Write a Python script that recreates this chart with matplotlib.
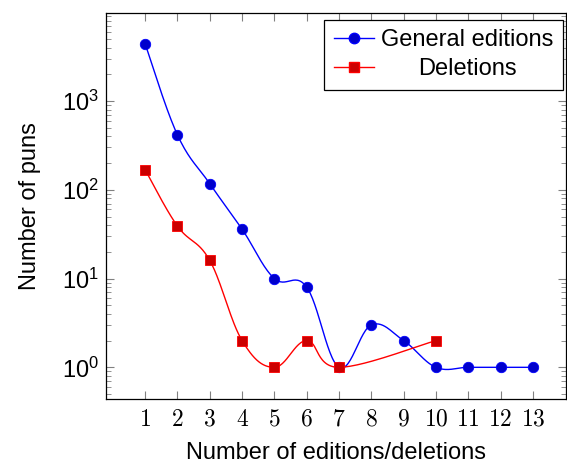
import numpy as np
import matplotlib
matplotlib.use('Agg')
import matplotlib.pyplot as plt
from matplotlib.ticker import LogLocator, NullFormatter, FixedLocator

plt.rcParams['mathtext.fontset'] = 'cm'
plt.rcParams['font.family'] = ['Liberation Sans', 'DejaVu Sans']

# data
gen_x = [1, 2, 3, 4, 5, 6, 7, 8, 9, 10, 11, 12, 13]
gen_y = [4400, 415, 117, 36, 10, 8, 1, 3, 2, 1, 1, 1, 1]
del_x = [1, 2, 3, 4, 5, 6, 7, 10]
del_y = [168, 39, 16, 2, 1, 2, 1, 2]
xtick_vals = list(range(1, 14))


def smooth(xs, ys, tension=0.55, n=30):
    """pgfplots-like smooth curve, done in (x, log10 y) space."""
    px = np.array(xs, dtype=float)
    py = np.log10(np.array(ys, dtype=float))
    k = tension / 3.0
    out_x, out_y = [], []
    for i in range(len(px) - 1):
        p0 = np.array([px[i], py[i]])
        p3 = np.array([px[i + 1], py[i + 1]])
        prev = np.array([px[i - 1], py[i - 1]]) if i > 0 else p0
        nxt = np.array([px[i + 2], py[i + 2]]) if i + 2 < len(px) else p3
        c1 = p0 + k * (p3 - prev) if i > 0 else p0 + k * (p3 - p0)
        c2 = p3 - k * (nxt - p0) if i + 2 < len(px) else p3 - k * (p3 - p0)
        t = np.linspace(0, 1, n)[:, None]
        seg = ((1 - t) ** 3) * p0 + 3 * ((1 - t) ** 2) * t * c1 + 3 * (1 - t) * t ** 2 * c2 + t ** 3 * p3
        out_x.extend(seg[:, 0])
        out_y.extend(seg[:, 1])
    return np.array(out_x), 10 ** np.array(out_y)


fig = plt.figure(figsize=(5.67, 4.65), dpi=100)
ax = fig.add_axes([0.187, 0.142, 0.811, 0.830])
ax.set_yscale('log')

sx, sy = smooth(gen_x, gen_y)
ax.plot(sx, sy, color='#0000ff', lw=1.0)
ax.plot(gen_x, gen_y, ls='none', marker='o', ms=7.5, mfc='#0000cc', mec='#0000ff', mew=0.6)
ax.plot([], [], color='#0000ff', lw=1.0, marker='o', ms=7.5, mfc='#0000cc', mec='#0000ff',
        label='General editions')

sx, sy = smooth(del_x, del_y)
ax.plot(sx, sy, color='#ff0000', lw=1.0)
ax.plot(del_x, del_y, ls='none', marker='s', ms=7, mfc='#cc0000', mec='#ff0000', mew=0.6)
ax.plot([], [], color='#ff0000', lw=1.0, marker='s', ms=7, mfc='#cc0000', mec='#ff0000',
        label='Deletions')

ax.set_xlim(-0.21, 14.02)
ax.set_ylim(0.44, 9800)

ax.xaxis.set_major_locator(FixedLocator(xtick_vals))
ax.set_xticklabels(['$%d$' % v for v in xtick_vals])
ax.yaxis.set_major_locator(LogLocator(base=10, numticks=10))
ax.yaxis.set_minor_locator(LogLocator(base=10, subs=np.arange(2, 10), numticks=10))
ax.yaxis.set_minor_formatter(NullFormatter())
ax.tick_params(which='both', direction='in', top=True, right=True, labelsize=17,
               color='#808080')
ax.tick_params(which='major', length=6, width=0.8)
ax.tick_params(which='minor', length=3.5, width=0.6)
ax.tick_params(axis='x', pad=7)
ax.tick_params(axis='y', pad=5)

for s in ax.spines.values():
    s.set_linewidth(0.9)

ax.set_xlabel('Number of editions/deletions', fontsize=17, labelpad=8)
ax.set_ylabel('Number of puns', fontsize=17, labelpad=15)

leg = ax.legend(loc='upper right', bbox_to_anchor=(0.993, 0.982), fontsize=17,
                frameon=True, fancybox=False, edgecolor='black', framealpha=1,
                borderpad=0.4, handlelength=1.7, handletextpad=0.3,
                labelspacing=0.3, borderaxespad=0.0)
leg.get_frame().set_linewidth(0.9)

# pgfplots centres the legend texts; shift the shorter one
renderer = fig.canvas.get_renderer()
texts = leg.get_texts()
widths = [t.get_window_extent(renderer).width for t in texts]
wmax = max(widths)
for t, w in zip(texts, widths):
    t.set_position(((wmax - w) / 2.0, 0))

fig.savefig('out.png', dpi=100)
